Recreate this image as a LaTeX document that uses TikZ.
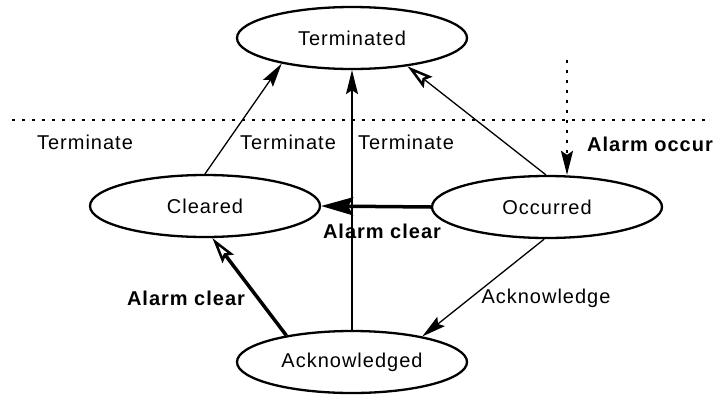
\documentclass[tikz,border=0pt]{standalone}
\usepackage{fontspec}
\setmainfont[LetterSpace=5]{Liberation Sans}
\usetikzlibrary{arrows.meta}
\usetikzlibrary{shapes}

\begin{document}
\begin{tikzpicture}[x=1pt,y=-1pt]
    \tikzset{
        every node/.style={font=\fontsize{20}{24}\selectfont},
        boldlabel/.style={font=\fontsize{20}{24}\selectfont\bfseries},
        state/.style={draw, ellipse, line width=2.3pt, minimum width=230pt, minimum height=62pt, inner sep=0pt},
        thinline/.style={line width=1.3pt},
        thickline/.style={line width=3.5pt},
        filltip/.style={-{Stealth[length=24pt,width=12pt,inset=4pt]}},
        bigtip/.style={-{Stealth[length=32pt,width=18pt,inset=5pt]}},
        opentip/.style={-{Stealth[open,length=26pt,width=14pt,inset=4pt,line width=2.5pt,fill=white]}},
        dotline/.style={line width=2.2pt, dash pattern=on 3pt off 7pt}
    }
    \useasboundingbox (0,0) rectangle (720,394);

    % draw states
    \node[state] (term) at (352,38) {Terminated};
    \node[state] (clr) at (205,206) {Cleared};
    \node[state] (occ) at (547,207) {Occurred};
    \node[state] (ack) at (352,362) {Acknowledged};

    % draw dotted border and incoming alarm
    \coordinate (divL) at (12,120);
    \coordinate (divR) at (706,120);
    \draw[dotline] (divL) -- (divR);
    \coordinate (occsrc) at (567,60);
    \draw[dotline, filltip] (occsrc) -- (occsrc |- occ.north);

    % draw terminate transitions
    \draw[thinline, filltip] (clr.north) -- (term.200);
    \draw[thinline, filltip] (ack.north) -- (term.south);
    \draw[thinline, opentip] (occ.92) -- (term.333);

    % draw alarm clear transitions
    \draw[thickline, bigtip] (occ.west) -- (clr.east);
    \draw[thickline, opentip] (ack.158) -- (clr.283);

    % draw acknowledge transition
    \draw[thinline, filltip] (occ.265) -- (ack.20);

    % labels
    \node (lblTermA) at (85,142) {Terminate};
    \node (lblTermB) at (288,142) {Terminate};
    \node (lblTermC) at (406,142) {Terminate};
    \node[boldlabel] (lblOccur) at (650,144) {Alarm occur};
    \node[boldlabel] (lblClearA) at (382,231) {Alarm clear};
    \node[boldlabel] (lblClearB) at (186,298) {Alarm clear};
    \node (lblAck) at (546,298) {Acknowledge};

\end{tikzpicture}
\end{document}
